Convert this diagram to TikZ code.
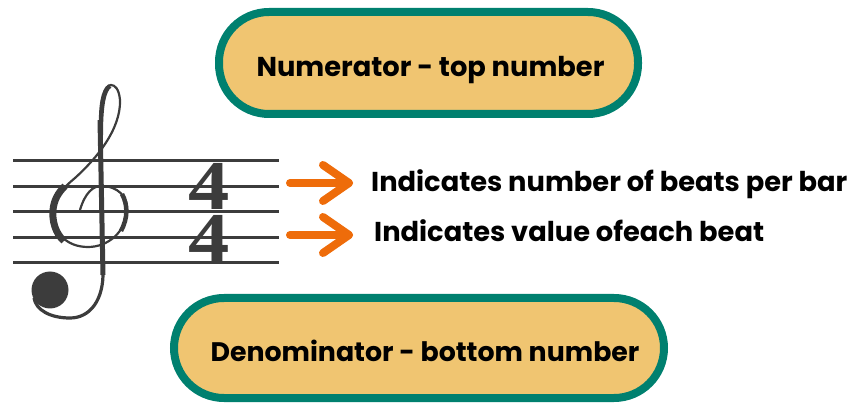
\documentclass[tikz,border=0pt]{standalone}
\usepackage{fontspec}
\setmainfont{Poppins}
\newfontfamily\numfont{Liberation Serif}
\definecolor{pillfill}{HTML}{F0C571}
\definecolor{pillline}{HTML}{00806F}
\definecolor{arroworange}{HTML}{EE6C0A}
\definecolor{ink}{HTML}{3C3C3C}
\begin{document}
\begin{tikzpicture}[x=1pt,y=-1pt,
  pill/.style={draw=pillline,fill=pillfill,line width=8pt,rounded corners=50pt},
  lbl/.style={font=\fontsize{27.3}{27.3}\selectfont\bfseries,inner sep=0pt},
  staffline/.style={draw=ink,line width=3pt},
  orangearrow/.style={draw=arroworange,line width=8pt,line cap=round,line join=round},
  numstyle/.style={font=\numfont\fontsize{70}{52}\selectfont\bfseries,text=ink,inner sep=0pt,align=center,xscale=1.18}]
\useasboundingbox (0,0) rectangle (857,403);
% pills
\draw[pill] (219,12) rectangle (638,114);
\node[lbl,anchor=base] (num) at (430.5,77) {Numerator - top number};
\draw[pill] (174,298) rectangle (664,398);
\node[lbl,anchor=base,font=\fontsize{26.8}{26.8}\selectfont\bfseries] (den) at (425,362) {Denominator - bottom number};
% staff
\foreach \yy in {161,186.5,212,237.5,263}
  \draw[staffline] (13,\yy) -- (279,\yy);
% time signature
\node[numstyle] (timesig) at (209,212) {4\\4};
% treble clef
\begin{scope}[ink]
\draw[line width=2.2pt]
  (80,210) .. controls (85,193) and (93,186) .. (101,186)
  .. controls (118,186) and (128,197) .. (127,210)
  .. controls (126,232) and (108,247) .. (88,247)
  .. controls (66,247) and (53,232) .. (53,213)
  .. controls (53,198) and (63,188) .. (75,178)
  .. controls (95,160) and (121,130) .. (120,100)
  .. controls (119,89) and (115,85) .. (111,85)
  .. controls (104,85) and (100,100) .. (100,120);
\draw[line width=7pt] (64,241) .. controls (55,233) and (52,220) .. (53,210) .. controls (54,200) and (58,193) .. (65,186);
\draw[line width=4.5pt] (122,194) .. controls (128,205) and (128,218) .. (121,231);
\draw[line width=4pt] (101,135) .. controls (101,105) and (104,90) .. (110,86);
\draw[line width=5pt] (100,120) -- (103,275);
\draw[line width=3.2pt] (103,270) .. controls (104,300) and (90,318) .. (70,318)
  .. controls (50,318) and (36,310) .. (34,298);
\fill (50,290) circle (18.5);
\end{scope}
% arrows
\coordinate (a1s) at (290,183);
\coordinate (a1t) at (349,183);
\coordinate (a2s) at (290,235);
\coordinate (a2t) at (349,235);
\draw[orangearrow] (a1s) -- (a1t);
\draw[orangearrow] ([shift={(-26,-18)}]a1t) -- (a1t) -- ([shift={(-26,18)}]a1t);
\draw[orangearrow] (a2s) -- (a2t);
\draw[orangearrow] ([shift={(-26,-18)}]a2t) -- (a2t) -- ([shift={(-26,18)}]a2t);
\node[lbl,anchor=base west] (t1) at (371,192) {Indicates number of beats per bar};
\node[lbl,anchor=base west] (t2) at (374,242) {Indicates value ofeach beat};
\end{tikzpicture}
\end{document}
